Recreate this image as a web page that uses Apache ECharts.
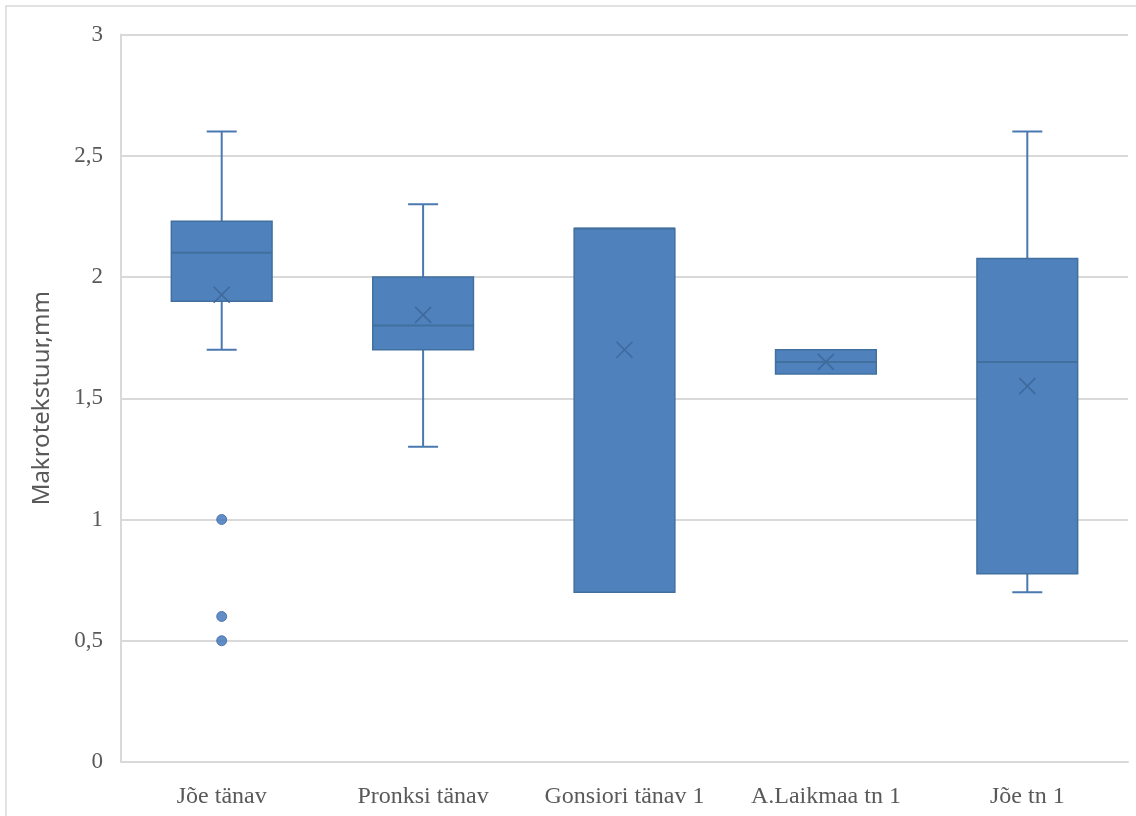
<!DOCTYPE html>
<html>
<head>
<meta charset="utf-8">
<script src="https://cdn.jsdelivr.net/npm/echarts@6/dist/echarts.min.js"></script>
<style>
  html, body { margin: 0; padding: 0; background: #fff; }
  #chart { width: 1136px; height: 816px; }
</style>
</head>
<body>
<div id="chart"></div>
<script>
// ---- data ----
const categories = ['Jõe tänav', 'Pronksi tänav', 'Gonsiori tänav 1', 'A.Laikmaa tn 1', 'Jõe tn 1'];
const whiskerLow  = [1.70, 1.30, 0.70, 1.60, 0.70];
const quartile1   = [1.90, 1.70, 0.70, 1.60, 0.776];
const medians     = [2.10, 1.80, 2.20, 1.65, 1.65];
const quartile3   = [2.23, 2.00, 2.20, 1.70, 2.076];
const whiskerHigh = [2.60, 2.30, 2.20, 1.70, 2.60];
const means       = [1.927, 1.844, 1.70, 1.65, 1.55];
const outlierCats = [0, 0, 0];
const outlierVals = [1.0, 0.6, 0.5];
const yTicks = [0, 0.5, 1, 1.5, 2, 2.5, 3];
const yAxisTitle = 'Makrotekstuur,mm';

const boxData = categories.map((c, i) => [i, whiskerLow[i], quartile1[i], medians[i], quartile3[i], whiskerHigh[i], means[i]]);
const outlierData = outlierCats.map((c, i) => [c, outlierVals[i]]);

const FILL = '#4f81bd';
const EDGE = '#41709f';
const WHISK = '#4a78b0';

const chart = echarts.init(document.getElementById('chart'));
chart.setOption({
  animation: false,
  backgroundColor: '#fff',
  graphic: [{
    type: 'rect', silent: true,
    shape: { x: 6, y: 6, width: 1140, height: 820 },
    style: { fill: 'none', stroke: '#d9d9d9', lineWidth: 1.5 }
  }],
  grid: { left: 121, right: 8, top: 34.5, bottom: 54 },
  xAxis: {
    type: 'category',
    data: categories,
    axisLine: { show: true, lineStyle: { color: '#d9d9d9', width: 2 } },
    axisTick: { show: false },
    axisLabel: { interval: 0, hideOverlap: false, color: '#595959', fontFamily: 'Liberation Serif', fontSize: 24, margin: 23 },
    splitLine: { show: false }
  },
  yAxis: {
    type: 'value',
    min: yTicks[0], max: yTicks[yTicks.length - 1], interval: 0.5,
    name: yAxisTitle,
    nameLocation: 'middle',
    nameGap: 67,
    nameTextStyle: { color: '#595959', fontFamily: 'Noto Sans', fontSize: 24 },
    axisLine: { show: true, lineStyle: { color: '#d9d9d9', width: 2 } },
    axisTick: { show: false },
    axisLabel: {
      color: '#595959', fontFamily: 'Liberation Serif', fontSize: 23, margin: 18,
      formatter: v => String(v).replace('.', ',')
    },
    splitLine: { show: true, lineStyle: { color: '#d9d9d9', width: 2 } }
  },
  series: [
    {
      type: 'custom',
      data: boxData,
      encode: { x: 0, y: [1, 2, 3, 4, 5, 6] },
      renderItem: function (params, api) {
        const idx = api.value(0);
        const band = api.size([1, 0])[0];
        const boxW = band * 0.5;
        const capW = 30;
        const pLow = api.coord([idx, api.value(1)]);
        const pQ1 = api.coord([idx, api.value(2)]);
        const pMed = api.coord([idx, api.value(3)]);
        const pQ3 = api.coord([idx, api.value(4)]);
        const pHigh = api.coord([idx, api.value(5)]);
        const pMean = api.coord([idx, api.value(6)]);
        const cx = pQ1[0];
        const children = [];
        const wStyle = { stroke: WHISK, lineWidth: 2 };
        if (pHigh[1] < pQ3[1] - 0.5) {
          children.push({ type: 'line', shape: { x1: cx, y1: pHigh[1], x2: cx, y2: pQ3[1] }, style: wStyle });
          children.push({ type: 'line', shape: { x1: cx - capW / 2, y1: pHigh[1], x2: cx + capW / 2, y2: pHigh[1] }, style: wStyle });
        }
        if (pLow[1] > pQ1[1] + 0.5) {
          children.push({ type: 'line', shape: { x1: cx, y1: pQ1[1], x2: cx, y2: pLow[1] }, style: wStyle });
          children.push({ type: 'line', shape: { x1: cx - capW / 2, y1: pLow[1], x2: cx + capW / 2, y2: pLow[1] }, style: wStyle });
        }
        children.push({
          type: 'rect',
          shape: { x: cx - boxW / 2, y: pQ3[1], width: boxW, height: pQ1[1] - pQ3[1] },
          style: { fill: FILL, stroke: EDGE, lineWidth: 1.5 }
        });
        children.push({ type: 'line', shape: { x1: cx - boxW / 2, y1: pMed[1], x2: cx + boxW / 2, y2: pMed[1] }, style: { stroke: EDGE, lineWidth: 2 } });
        const m = 8;
        const xStyle = { stroke: '#3f6a9c', lineWidth: 1.6 };
        children.push({ type: 'line', shape: { x1: cx - m, y1: pMean[1] - m, x2: cx + m, y2: pMean[1] + m }, style: xStyle });
        children.push({ type: 'line', shape: { x1: cx - m, y1: pMean[1] + m, x2: cx + m, y2: pMean[1] - m }, style: xStyle });
        return { type: 'group', children: children };
      },
      z: 3
    },
    {
      type: 'scatter',
      data: outlierData,
      symbol: 'circle',
      symbolSize: 10,
      itemStyle: { color: '#3b70b8', borderColor: '#3a68a6', borderWidth: 1 },
      z: 4
    }
  ]
});
</script>
</body>
</html>
